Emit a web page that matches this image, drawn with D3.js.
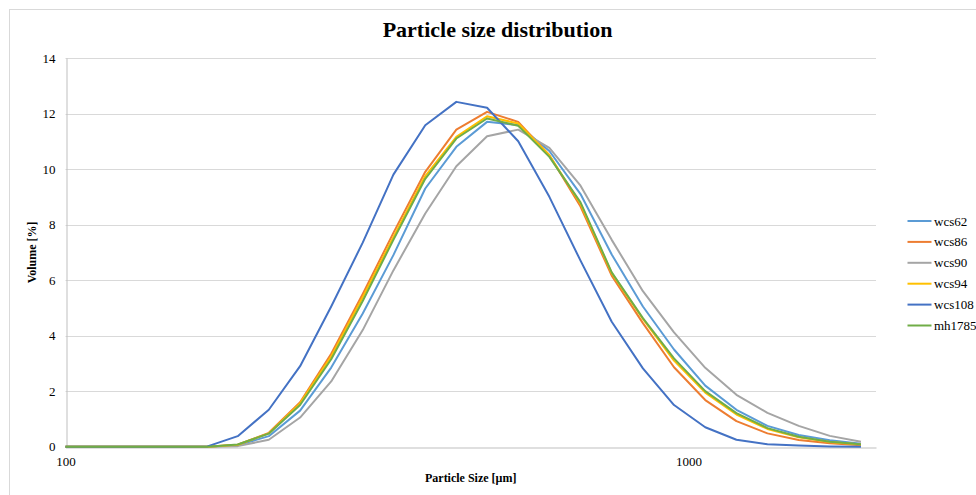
<!DOCTYPE html>
<html>
<head>
<meta charset="utf-8">
<script src="https://cdn.jsdelivr.net/npm/d3@7/dist/d3.min.js"></script>
<style>
  html, body { margin: 0; padding: 0; background: #fff; }
  svg { display: block; }
  text { font-family: "Liberation Serif", "DejaVu Serif", serif; fill: #000; }
</style>
</head>
<body>
<svg id="chart" width="976" height="495"></svg>
<script>
// ---- Data ----
const sizes = [95, 106, 119, 134, 150, 169, 189, 212, 238, 267, 300, 336, 378, 424, 475, 533, 598, 671, 753, 845, 948, 1064, 1194, 1339, 1503, 1686, 1892];
const seriesNames = ["wcs62", "wcs86", "wcs90", "wcs94", "wcs108", "mh1785"];
const seriesColors = ["#5B9BD5", "#ED7D31", "#A5A5A5", "#FFC000", "#4472C4", "#70AD47"];
const wcs62  = [0, 0, 0, 0, 0, 0, 0.05, 0.38, 1.30, 2.85, 4.80, 6.90, 9.30, 10.80, 11.70, 11.58, 10.65, 9.10, 6.92, 5.05, 3.50, 2.20, 1.33, 0.75, 0.42, 0.23, 0.11];
const wcs86  = [0, 0, 0, 0, 0, 0, 0.07, 0.50, 1.60, 3.35, 5.50, 7.70, 9.90, 11.42, 12.06, 11.70, 10.50, 8.65, 6.16, 4.45, 2.86, 1.68, 0.92, 0.48, 0.24, 0.12, 0.05];
const wcs90  = [0, 0, 0, 0, 0, 0, 0.02, 0.25, 1.05, 2.35, 4.20, 6.35, 8.40, 10.10, 11.18, 11.42, 10.76, 9.40, 7.45, 5.60, 4.12, 2.84, 1.87, 1.22, 0.75, 0.39, 0.18];
const wcs94  = [0, 0, 0, 0, 0, 0, 0.07, 0.48, 1.56, 3.25, 5.38, 7.55, 9.75, 11.16, 11.90, 11.64, 10.50, 8.75, 6.25, 4.60, 3.10, 1.95, 1.16, 0.64, 0.34, 0.17, 0.08];
const wcs108 = [0, 0, 0, 0, 0, 0.01, 0.38, 1.33, 2.90, 5.05, 7.35, 9.80, 11.58, 12.42, 12.21, 11.00, 9.00, 6.70, 4.50, 2.82, 1.50, 0.70, 0.25, 0.09, 0.04, 0.01, 0];
const mh1785 = [0, 0, 0, 0, 0, 0, 0.08, 0.47, 1.50, 3.15, 5.25, 7.45, 9.65, 11.10, 11.82, 11.56, 10.44, 8.80, 6.28, 4.63, 3.18, 2.00, 1.21, 0.67, 0.36, 0.18, 0.09];
const seriesValues = [wcs62, wcs86, wcs90, wcs94, wcs108, mh1785];
const yTicks = [0, 2, 4, 6, 8, 10, 12, 14];
const xTicks = [100, 1000];
const title = "Particle size distribution";
const xTitle = "Particle Size [µm]";
const yTitle = "Volume [%]";

// ---- Layout ----
const svg = d3.select("#chart");
const plot = { left: 65.5, right: 876, top: 58, bottom: 446.7 };

const x = d3.scaleLog().domain([100, 2000]).range([plot.left, plot.right]);
const y = d3.scaleLinear().domain([0, 14]).range([plot.bottom, plot.top]);

// outer chart border
svg.append("rect")
  .attr("x", 9.5).attr("y", 9.5)
  .attr("width", 1200).attr("height", 1200)
  .attr("fill", "none").attr("stroke", "#d9d9d9").attr("stroke-width", 1);

// title
svg.append("text")
  .attr("x", 497.5)
  .attr("y", 37)
  .attr("text-anchor", "middle")
  .style("font-size", "22px").style("font-weight", "bold")
  .text(title);

// gridlines
svg.append("g")
  .selectAll("line")
  .data(yTicks.filter(t => t > 0))
  .join("line")
  .attr("x1", plot.left).attr("x2", plot.right)
  .attr("y1", d => Math.round(y(d)) + 0.5).attr("y2", d => Math.round(y(d)) + 0.5)
  .attr("stroke", "#d9d9d9").attr("stroke-width", 1);

// y axis
const yAxis = svg.append("g")
  .attr("transform", `translate(${Math.round(plot.left) + 0.5},0)`)
  .call(d3.axisLeft(y).tickValues(yTicks).tickSize(0).tickPadding(11).tickFormat(d3.format("d")));
yAxis.select(".domain").attr("stroke", "#bfbfbf");
yAxis.selectAll("text").style("font-size", "13px").style("font-family", "Liberation Serif");

// x axis
const xAxis = svg.append("g")
  .attr("transform", `translate(0,${Math.round(plot.bottom) + 0.5})`)
  .call(d3.axisBottom(x).tickValues(xTicks).tickSize(0).tickPadding(9).tickFormat(d3.format("d")));
xAxis.select(".domain").attr("stroke", "#bfbfbf");
xAxis.selectAll("text").style("font-size", "13px").style("font-family", "Liberation Serif");

// axis titles
svg.append("text")
  .attr("x", (plot.left + plot.right) / 2)
  .attr("y", 482)
  .attr("text-anchor", "middle")
  .style("font-size", "12px").style("font-weight", "bold")
  .text(xTitle);

svg.append("text")
  .attr("transform", `translate(36,${(plot.top + plot.bottom) / 2}) rotate(-90)`)
  .attr("text-anchor", "middle")
  .style("font-size", "12px").style("font-weight", "bold")
  .text(yTitle);

// clip
svg.append("clipPath").attr("id", "plotclip")
  .append("rect")
  .attr("x", plot.left).attr("y", plot.top - 5)
  .attr("width", plot.right - plot.left).attr("height", plot.bottom - plot.top + 10);

const line = d3.line().x(d => x(d[0])).y(d => y(d[1]));

const lines = svg.append("g").attr("clip-path", "url(#plotclip)");
seriesNames.forEach((name, i) => {
  const pts = sizes.map((s, j) => [s, seriesValues[i][j]]);
  lines.append("path")
    .datum(pts)
    .attr("d", line)
    .attr("fill", "none")
    .attr("stroke", seriesColors[i])
    .attr("stroke-width", 2)
    .attr("stroke-linejoin", "round");
});

// legend
const legend = svg.append("g");
seriesNames.forEach((name, i) => {
  const ly = 221 + i * 20.9;
  legend.append("line")
    .attr("x1", 907.5).attr("x2", 931.5)
    .attr("y1", ly).attr("y2", ly)
    .attr("stroke", seriesColors[i]).attr("stroke-width", 2);
  legend.append("text")
    .attr("x", 934).attr("y", ly + 4.5)
    .style("font-size", "13px")
    .text(name);
});
</script>
</body>
</html>
